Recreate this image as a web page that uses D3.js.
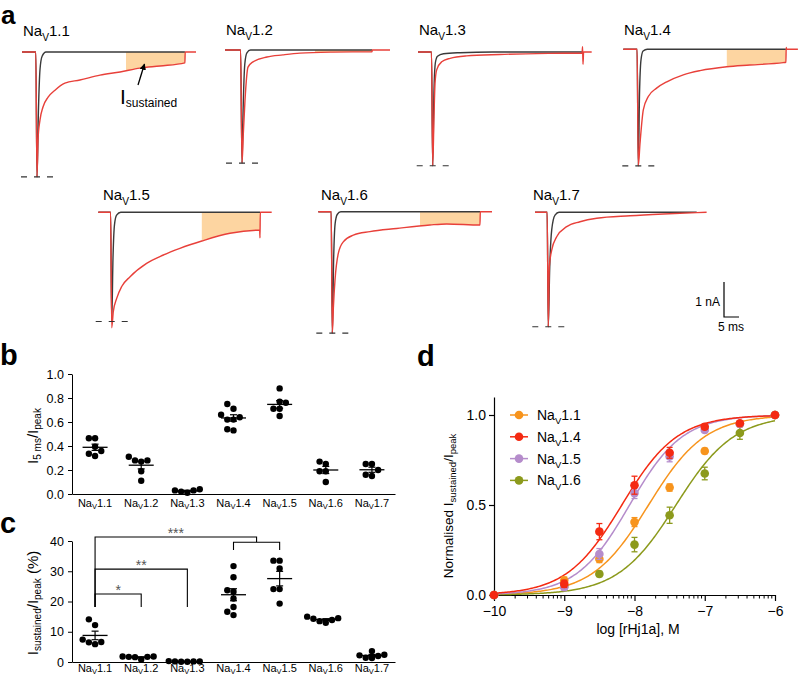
<!DOCTYPE html>
<html>
<head>
<meta charset="utf-8">
<script src="https://cdn.jsdelivr.net/npm/d3@7"></script>
<style>
body { margin: 0; background: #fff; }
svg { font-family: "Liberation Sans", Arial, Helvetica, sans-serif; }
</style>
</head>
<body>
<script>
// ---------- data ----------
var channels = ['1.1', '1.2', '1.3', '1.4', '1.5', '1.6', '1.7'];

// panel a: current traces, [time (ms), current (nA)]
var red11 = [[0,0],[4.6,0],[5,-3.57],[5.33,-2.51],[6,-1.94],[7,-1.57],[8.7,-1.29],[11,-1.09],[14.3,-0.89],[19.3,-0.8],[26,-0.66],[32.7,-0.57],[39.3,-0.46],[46,-0.4],[54.3,-0.31],[54.4,0],[58,0]];
var black11 = [[0,0],[4.6,0],[5,-3.57],[5.5,-1.6],[6,-0.5],[6.7,-0.12],[8,0],[54.3,0]];
var red12 = [[0,0],[5.2,0],[5.67,-3.23],[6.1,-2.4],[6.67,-1.43],[7.67,-0.49],[9.33,-0.34],[14,-0.2],[19.3,-0.14],[25,-0.09],[36,-0.06],[49,-0.05],[49.1,0],[55,0]];
var black12 = [[0,0],[5.2,0],[5.67,-3.23],[6.1,-1.5],[6.6,-0.4],[7.3,-0.08],[8.5,0],[49,0]];
var red13 = [[0,0],[4.5,0],[4.9,-3.25],[5.33,-1.85],[5.67,-0.9],[6.23,-0.51],[7.9,-0.28],[10.7,-0.18],[16.2,-0.11],[27.3,-0.07],[44,-0.04],[54.7,-0.03],[54.85,0.15],[55,-0.35],[55.2,0],[57.9,0]];
var black13 = [[0,0],[4.5,0],[4.9,-3.25],[5.3,-1.2],[5.8,-0.3],[6.5,-0.12],[8.5,-0.05],[14,-0.02],[25,0],[54.9,0]];
var red14 = [[0,0],[4.6,0],[5,-3.33],[5.57,-2.69],[6.67,-1.73],[8.33,-1.35],[11.1,-1.11],[14.5,-0.93],[20,-0.73],[25.6,-0.61],[34.5,-0.5],[42.2,-0.45],[53.3,-0.38],[54.2,-0.37],[54.3,0.05],[54.4,0],[58.2,0]];
var black14 = [[0,0],[4.6,0],[5,-3.33],[5.4,-1.3],[5.9,-0.3],[6.6,-0.05],[8,0],[54.2,0]];
var red15 = [[0,0],[4.1,0],[4.47,-3.3],[5,-2.84],[6.13,-2.46],[7.8,-2.12],[10.6,-1.84],[16.1,-1.46],[21.7,-1.22],[27.2,-1.03],[34.5,-0.82],[43.9,-0.6],[53.8,-0.51],[53.9,-0.73],[54,0],[57.8,0]];
var black15 = [[0,0],[4.1,0],[4.47,-3.12],[4.9,-1.3],[5.4,-0.35],[6.1,-0.08],[7.5,0],[53.9,0]];
var red16 = [[0,0],[4.3,0],[4.67,-3.47],[5.05,-2.7],[5.57,-1.95],[6.67,-1.19],[8.33,-0.86],[11.67,-0.67],[17.2,-0.57],[26.1,-0.48],[37.2,-0.38],[42.8,-0.35],[53.9,-0.38],[54,0],[57.9,0]];
var black16 = [[0,0],[4.3,0],[4.67,-3.47],[5.1,-1.4],[5.6,-0.35],[6.3,-0.08],[7.5,0],[53.9,0]];
var red17 = [[0,0],[4.05,0],[4.43,-3.27],[4.77,-1.55],[5.57,-1.08],[7.23,-0.7],[10.57,-0.41],[15,-0.27],[20.57,-0.17],[31.67,-0.1],[42.77,-0.05],[53.9,-0.01],[57.2,0]];
var black17 = [[0,0],[4.05,0],[4.43,-3.27],[4.9,-1.6],[5.57,-0.5],[6.67,-0.08],[8,0],[53.9,0]];

var peakTime = [5, 5.67, 4.9, 5, 4.47, 4.67, 4.43];          // ms
var controlPeak = [-3.57, -3.23, -3.25, -3.33, -3.12, -3.47, -3.27]; // nA
var sustainedWin = [[34.7,54.3],[30,49],null,[34.5,54.2],[34.5,53.9],[33.9,53.9],null]; // ms

// panel b: I5ms / Ipeak
var b11 = [0.465, 0.465, 0.394, 0.358, 0.336, 0.317];
var b12 = [0.27, 0.28, 0.31, 0.28, 0.19, 0.11];
var b13 = [0.04, 0.03, 0.03, 0.02, 0.01];
var b14 = [0.75, 0.71, 0.66, 0.64, 0.62, 0.62, 0.54, 0.53];
var b15 = [0.88, 0.77, 0.76, 0.71, 0.71, 0.65];
var b16 = [0.25, 0.27, 0.19, 0.19, 0.10];
var b17 = [0.25, 0.25, 0.20, 0.15, 0.16];

// panel c: Isustained / Ipeak (%)
var c11 = [14.1, 12.2, 7.4, 5.9, 6.6, 6.5];
var c12 = [1.8, 1.8, 1.7, 1.7, 1.6, 0.8];
var c13 = [0.3, 0.2, 0.1, 0.2, 0.1, 0.2];
var c14 = [31.7, 28, 23.7, 23.2, 21, 18.2, 16.6, 15.5];
var c15 = [33.5, 33.5, 30.9, 24.1, 24.1, 19.3];
var c16 = [15.0, 14.5, 14.3, 13.9, 13.0, 13.5];
var c17 = [3.6, 2.4, 2.2, 2.0, 1.4, 1.3];

// significance brackets: from, to, label, bracket top (%), drop to (%)
var sigFrom = ['1.1', '1.1', '1.1'];
var sigTo = ['1.2', '1.3', '1.4/1.5'];
var sigLabel = ['*', '**', '***'];
var sigTop = [22.5, 30.7, 41.3];
var sigDrop = [18.2, 18.2, 37.0];

// panel d: concentration-response
var logConc = [-10, -9, -8.5, -8, -7.5, -7, -6.5, -6];
var nav11Resp = [0, 0.08, 0.2, 0.405, 0.597, 0.8, 0.95, 1.0];
var nav14Resp = [0, 0.062, 0.352, 0.61, 0.79, 0.935, 0.954, 1.0];
var nav15Resp = [0, 0.043, 0.228, 0.566, 0.77, 0.917, 0.95, 1.0];
var nav16Resp = [0, 0.05, 0.117, 0.28, 0.443, 0.675, 0.9, 1.0];
var nav11Err = [0, 0.02, 0.02, 0.025, 0.02, 0.015, 0.01, 0];
var nav14Err = [0, 0.02, 0.045, 0.05, 0.03, 0.015, 0.01, 0];
var nav15Err = [0, 0.015, 0.03, 0.03, 0.03, 0.015, 0.01, 0];
var nav16Err = [0, 0.01, 0.015, 0.04, 0.045, 0.035, 0.035, 0];
var fitNames = ['1.1', '1.4', '1.5', '1.6'];
var fitLogEC50 = [-7.80, -8.18, -8.07, -7.41];
var fitHill = [1.08, 1.1, 1.15, 1.05];

// ---------- layout ----------
var traceLeft = [22, 225, 418, 623.3, 98.3, 318.3, 535];
var traceBase = [52, 50, 52, 49.3, 212.3, 211.7, 212.3];
var labelX = [23, 226, 419, 624, 103, 321, 533];
var labelY = [36, 35, 35, 35, 200, 200, 200];
var msPx = 3, nAPx = 35;

var redTraces = [red11, red12, red13, red14, red15, red16, red17];
var blackTraces = [black11, black12, black13, black14, black15, black16, black17];
var bData = [b11, b12, b13, b14, b15, b16, b17];
var cData = [c11, c12, c13, c14, c15, c16, c17];
var dResp = [nav11Resp, nav14Resp, nav15Resp, nav16Resp];
var dErr = [nav11Err, nav14Err, nav15Err, nav16Err];
var dColors = ['#f7941d', '#f42a12', '#b58ccb', '#8c9a1c'];

var svg = d3.select('body').append('svg')
	.attr('width', 798)
	.attr('height', 679);

function navText(g, x, y, num, size, anchor, sub) {
	var s = sub || 0.3;
	var t = g.append('text')
		.attr('x', x).attr('y', y)
		.attr('font-size', size)
		.attr('text-anchor', anchor || 'start');
	t.append('tspan').text('Na');
	t.append('tspan').attr('font-size', size * 0.68).attr('dy', size * s).text('V');
	t.append('tspan').attr('dy', -size * s).text(num);
	return t;
}

function letter(t, x, y, size) {
	svg.append('text').attr('x', x).attr('y', y)
		.attr('font-size', size || 29).attr('font-weight', 'bold').text(t);
}

// ---------- panel a ----------
letter('a', 1, 24, 26);

svg.append('defs').append('marker')
	.attr('id', 'arrow').attr('viewBox', '0 0 10 10')
	.attr('refX', 9).attr('refY', 5)
	.attr('markerWidth', 5).attr('markerHeight', 5)
	.attr('orient', 'auto')
	.append('path').attr('d', 'M0,0L10,5L0,10z').attr('fill', '#000');

channels.forEach(function(ch, i) {
	var x0 = traceLeft[i], base = traceBase[i];
	var x = d3.scaleLinear().domain([0, 60]).range([x0, x0 + 60 * msPx]);
	var y = d3.scaleLinear().domain([-1, 0]).range([base + nAPx, base]);
	var line = d3.line().x(d => x(d[0])).y(d => y(d[1])).curve(d3.curveMonotoneX);
	var g = svg.append('g');

	if (sustainedWin[i]) {
		var w = sustainedWin[i];
		svg.append('clipPath').attr('id', 'win' + i).append('rect')
			.attr('x', x(w[0])).attr('width', x(w[1]) - x(w[0]))
			.attr('y', base - 3).attr('height', 150);
		g.append('path').datum(redTraces[i])
			.attr('clip-path', 'url(#win' + i + ')')
			.attr('fill', '#fdd5a1')
			.attr('d', d3.area().x(d => x(d[0])).y0(y(0)).y1(d => y(d[1])).curve(d3.curveMonotoneX));
	}

	g.append('path').datum(blackTraces[i])
		.attr('fill', 'none').attr('stroke', '#3a3a3a').attr('stroke-width', 1.4)
		.attr('d', line);
	g.append('path').datum(redTraces[i])
		.attr('fill', 'none').attr('stroke', '#e8403a').attr('stroke-width', 1.4)
		.attr('d', line);

	// peak level of control trace
	g.append('line')
		.attr('x1', x(peakTime[i]) - 16).attr('x2', x(peakTime[i]) + 16)
		.attr('y1', y(controlPeak[i])).attr('y2', y(controlPeak[i]))
		.attr('stroke', '#333').attr('stroke-width', 1.2)
		.attr('stroke-dasharray', '6,7');

	navText(svg, labelX[i], labelY[i], ch, 15);
});

// I sustained annotation
var ann = svg.append('text').attr('x', 120).attr('y', 104).attr('font-size', 21);
ann.append('tspan').text('I');
ann.append('tspan').attr('font-size', 12).attr('dy', 3).text('sustained');
svg.append('line')
	.attr('x1', 138).attr('y1', 85).attr('x2', 144.5).attr('y2', 64)
	.attr('stroke', '#000').attr('stroke-width', 1.3)
	.attr('marker-end', 'url(#arrow)');

// scale bar
var sbx = d3.scaleLinear().domain([0, 5]).range([724, 724 + 5 * msPx]);
var sby = d3.scaleLinear().domain([0, 1]).range([317, 317 - nAPx]);
svg.append('path')
	.attr('d', 'M' + sbx(0) + ',' + sby(1) + 'V' + sby(0) + 'H' + sbx(5))
	.attr('fill', 'none').attr('stroke', '#000').attr('stroke-width', 1.2);
svg.append('text').attr('x', 720).attr('y', 306).attr('font-size', 12)
	.attr('text-anchor', 'end').text('1 nA');
svg.append('text').attr('x', 731).attr('y', 331).attr('font-size', 12)
	.attr('text-anchor', 'middle').text('5 ms');

// ---------- panels b and c ----------
var xb = d3.scaleBand().domain(channels).range([72, 395]);
var cx = ch => xb(ch) + xb.bandwidth() / 2;
var dotR = 3.2;

// simple dodge: spread points sideways when their values sit close together
function swarm(vals, y) {
	var placed = [];
	vals.slice().sort(d3.ascending).forEach(function(v) {
		var py = y(v);
		for (var k = 0; k < 30; k++) {
			var dx = (k % 2 ? -1 : 1) * Math.ceil(k / 2) * 6.2;
			var ok = placed.every(p => Math.hypot(p.dx - dx, p.py - py) >= 6.2);
			if (ok) { placed.push({ v: v, dx: dx, py: py }); break; }
		}
	});
	return placed;
}

function scatterPanel(data, y, ticks, fmt, labelY) {
	var g = svg.append('g');
	g.append('g').attr('transform', 'translate(72,0)')
		.call(d3.axisLeft(y).tickValues(ticks).tickFormat(d3.format(fmt)).tickSize(4).tickSizeOuter(0))
		.call(a => a.selectAll('text').attr('font-size', 12.5).attr('fill', '#000').attr('dx', -1))
		.call(a => a.selectAll('path,line').attr('stroke', '#000'));
	g.append('g').attr('transform', 'translate(0,' + y(0) + ')')
		.call(d3.axisBottom(xb).tickSize(0).tickFormat(''))
		.call(a => a.select('path').attr('stroke', '#000'));

	channels.forEach(function(ch, i) {
		var vals = data[i];
		var m = d3.mean(vals), sem = d3.deviation(vals) / Math.sqrt(vals.length);
		g.selectAll(null).data(swarm(vals, y)).enter().append('circle')
			.attr('cx', d => cx(ch) + d.dx).attr('cy', d => d.py)
			.attr('r', dotR).attr('fill', '#000');
		g.append('line').attr('x1', cx(ch) - 12.5).attr('x2', cx(ch) + 12.5)
			.attr('y1', y(m)).attr('y2', y(m)).attr('stroke', '#000').attr('stroke-width', 1.3);
		g.append('line').attr('x1', cx(ch)).attr('x2', cx(ch))
			.attr('y1', y(m - sem)).attr('y2', y(m + sem)).attr('stroke', '#000').attr('stroke-width', 1.2);
		[m - sem, m + sem].forEach(function(v) {
			g.append('line').attr('x1', cx(ch) - 3.5).attr('x2', cx(ch) + 3.5)
				.attr('y1', y(v)).attr('y2', y(v)).attr('stroke', '#000').attr('stroke-width', 1.2);
		});
		navText(g, cx(ch), labelY, ch, 11, 'middle', 0.22);
	});
	return g;
}

letter('b', 0, 365);
var yb = d3.scaleLinear().domain([0, 1]).range([494, 374]);
scatterPanel(bData, yb, [0, 0.2, 0.4, 0.6, 0.8, 1.0], '.1f', 507);
var tb = svg.append('text').attr('font-size', 15).attr('text-anchor', 'middle')
	.attr('transform', 'translate(38,436) rotate(-90)');
tb.append('tspan').text('I');
tb.append('tspan').attr('font-size', 10).attr('dy', 3).text('5 ms');
tb.append('tspan').attr('dy', -3).text('/I');
tb.append('tspan').attr('font-size', 10).attr('dy', 3).text('peak');

letter('c', 0, 533);
var yc = d3.scaleLinear().domain([0, 40]).range([662, 541]);
var gc = scatterPanel(cData, yc, [0, 10, 20, 30, 40], 'd', 672);
var tc = svg.append('text').attr('font-size', 15).attr('text-anchor', 'middle')
	.attr('transform', 'translate(38,603) rotate(-90)');
tc.append('tspan').text('I');
tc.append('tspan').attr('font-size', 10).attr('dy', 3).text('sustained');
tc.append('tspan').attr('dy', -3).text('/I');
tc.append('tspan').attr('font-size', 10).attr('dy', 3).text('peak');
tc.append('tspan').attr('dy', -3).text(' (%)');

// significance brackets
sigLabel.forEach(function(lab, i) {
	var xa = cx(sigFrom[i]);
	var xe, path;
	if (sigTo[i].indexOf('/') < 0) {
		xe = cx(sigTo[i]);
		path = 'M' + xa + ',' + yc(sigDrop[i]) + 'V' + yc(sigTop[i]) + 'H' + xe + 'V' + yc(sigDrop[i]);
	} else {
		var pair = sigTo[i].split('/');
		var p1 = cx(pair[0]), p2 = cx(pair[1]);
		xe = (p1 + p2) / 2;
		var mid = sigTop[i] - (sigTop[i] - sigDrop[i]) * 0.4;
		path = 'M' + xa + ',' + yc(sigDrop[0]) + 'V' + yc(sigTop[i]) + 'H' + xe + 'V' + yc(mid) +
			'M' + p1 + ',' + yc(sigDrop[i]) + 'V' + yc(mid) + 'H' + p2 + 'V' + yc(sigDrop[i]);
	}
	gc.append('path').attr('d', path).attr('fill', 'none')
		.attr('stroke', '#000').attr('stroke-width', 1.1);
	gc.append('text').attr('x', (xa + xe) / 2).attr('y', yc(sigTop[i]) + 1)
		.attr('text-anchor', 'middle').attr('font-size', 14).attr('fill', '#555')
		.text(lab);
});

// ---------- panel d ----------
letter('d', 417, 366);
var xd = d3.scaleLinear().domain([-10, -6]).range([494, 775]);
var yd = d3.scaleLinear().domain([0, 1.1]).range([595, 397]);
var gd = svg.append('g');

gd.append('g').attr('transform', 'translate(0,595)')
	.call(d3.axisBottom(xd).ticks(4).tickSize(6).tickSizeOuter(0))
	.call(a => a.selectAll('text').attr('font-size', 14).attr('fill', '#000').attr('dy', '0.85em'))
	.call(a => a.selectAll('path,line').attr('stroke', '#000').attr('stroke-width', 1.2));
var minor = [];
d3.range(-10, -6).forEach(function(dec) {
	d3.range(2, 10).forEach(k => minor.push(dec + Math.log10(k)));
});
gd.selectAll(null).data(minor).enter().append('line')
	.attr('x1', d => xd(d)).attr('x2', d => xd(d))
	.attr('y1', 595).attr('y2', 598.5)
	.attr('stroke', '#000').attr('stroke-width', 1);
gd.append('g').attr('transform', 'translate(494,0)')
	.call(d3.axisLeft(yd).tickValues([0, 0.5, 1.0]).tickFormat(d3.format('.1f')).tickSize(5).tickSizeOuter(0))
	.call(a => a.selectAll('text').attr('font-size', 14).attr('fill', '#000'))
	.call(a => a.selectAll('path,line').attr('stroke', '#000').attr('stroke-width', 1.2));

gd.append('text').attr('x', 638).attr('y', 634).attr('font-size', 14)
	.attr('text-anchor', 'middle').text('log [rHj1a], M');
var td = gd.append('text').attr('font-size', 13.5).attr('text-anchor', 'middle')
	.attr('transform', 'translate(453,506) rotate(-90)');
td.append('tspan').text('Normalised I');
td.append('tspan').attr('font-size', 9.5).attr('dy', 3).text('sustained');
td.append('tspan').attr('dy', -3).text('/I');
td.append('tspan').attr('font-size', 9.5).attr('dy', 3).text('peak');

var curveX = d3.range(-10, -5.99, 0.02);
var drawOrder = [0, 3, 2, 1];
drawOrder.forEach(function(s) {
	var col = dColors[s];
	gd.append('path').datum(curveX)
		.attr('fill', 'none').attr('stroke', col).attr('stroke-width', 1.5)
		.attr('d', d3.line()
			.x(d => xd(d))
			.y(d => yd(1 / (1 + Math.pow(10, fitHill[s] * (fitLogEC50[s] - d))))));
});
drawOrder.forEach(function(s) {
	var col = dColors[s];
	var pts = logConc.map((c, j) => ({ c: c, v: dResp[s][j], e: dErr[s][j] }));
	var eb = gd.selectAll(null).data(pts.filter(p => p.e > 0)).enter().append('g');
	eb.append('line').attr('x1', d => xd(d.c)).attr('x2', d => xd(d.c))
		.attr('y1', d => yd(d.v - d.e)).attr('y2', d => yd(d.v + d.e))
		.attr('stroke', col).attr('stroke-width', 1.3);
	eb.append('line').attr('x1', d => xd(d.c) - 3).attr('x2', d => xd(d.c) + 3)
		.attr('y1', d => yd(d.v + d.e)).attr('y2', d => yd(d.v + d.e))
		.attr('stroke', col).attr('stroke-width', 1.3);
	eb.append('line').attr('x1', d => xd(d.c) - 3).attr('x2', d => xd(d.c) + 3)
		.attr('y1', d => yd(d.v - d.e)).attr('y2', d => yd(d.v - d.e))
		.attr('stroke', col).attr('stroke-width', 1.3);
	gd.selectAll(null).data(pts).enter().append('circle')
		.attr('cx', d => xd(d.c)).attr('cy', d => yd(d.v))
		.attr('r', 4.3).attr('fill', col);
});

// legend
fitNames.forEach(function(n, s) {
	var ly = 415 + s * 21.8;
	gd.append('line').attr('x1', 510).attr('x2', 528).attr('y1', ly).attr('y2', ly)
		.attr('stroke', dColors[s]).attr('stroke-width', 1.5);
	gd.append('circle').attr('cx', 519).attr('cy', ly).attr('r', 4.3).attr('fill', dColors[s]);
	navText(gd, 537, ly + 5, n, 14);
});
</script>
</body>
</html>
